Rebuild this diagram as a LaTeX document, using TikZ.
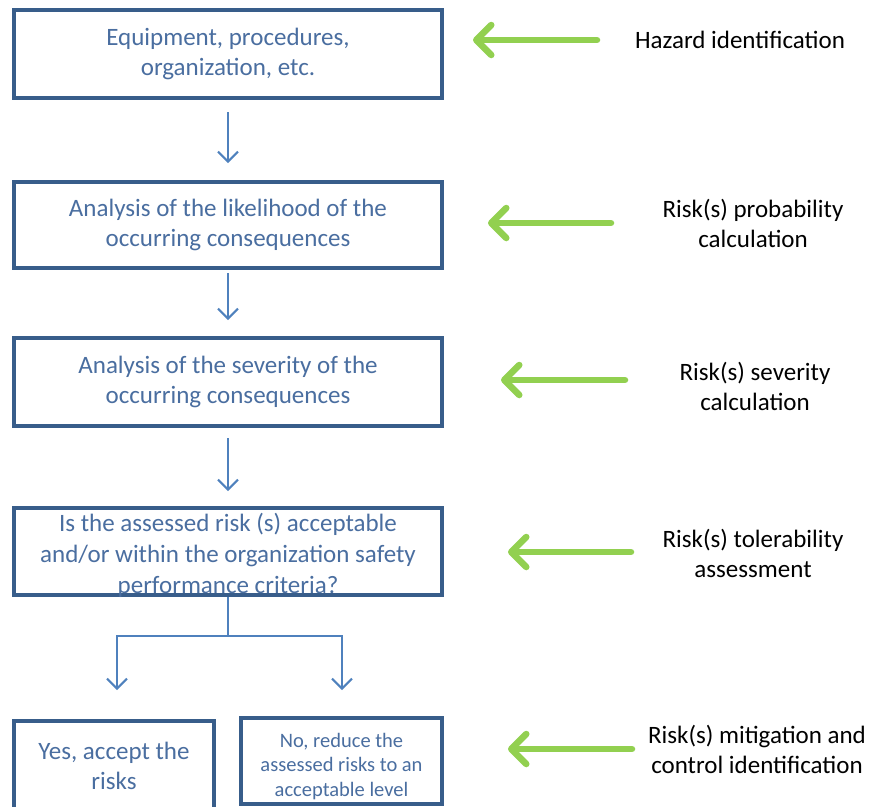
\documentclass[tikz,border=0pt]{standalone}
\usepackage{fontspec}
\setmainfont{Carlito}
\usetikzlibrary{arrows.meta}
\definecolor{boxline}{RGB}{56,93,138}
\definecolor{boxtxt}{RGB}{74,110,160}
\definecolor{flowblue}{RGB}{79,129,189}
\definecolor{hintgreen}{RGB}{146,208,80}
\tikzset{
  box/.style={draw=boxline, line width=4pt, fill=white, minimum width=428pt, inner sep=0pt},
  smallbox/.style={box, minimum width=200pt},
  boxtext/.style={text=boxtxt, align=center, font=\fontsize{25pt}{30pt}\selectfont, inner sep=0pt},
  notetext/.style={boxtext, font=\fontsize{20.5pt}{24.5pt}\selectfont},
  sidetext/.style={text=black, align=center, font=\fontsize{25pt}{30pt}\selectfont, inner sep=0pt},
  flow/.style={draw=flowblue, line width=2pt, -{Straight Barb[length=10pt,width=20pt]}},
  hint/.style={draw=hintgreen, line width=6.5pt, line cap=round,
    -{Straight Barb[length=15pt,width=30pt,line cap=round,line join=round]}},
}
\begin{document}
\begin{tikzpicture}[x=1pt, y=-1pt]
\useasboundingbox (0,0) rectangle (875,806);

% process boxes
\node[box, minimum height=88pt] (b1) at (228,54) {};
\node[boxtext] (t1) at (b1.center) {Equipment, procedures,\\organization, etc.};
\node[box, minimum height=86pt] (b2) at (228,225) {};
\node[boxtext] (t2) at (b2.center) {Analysis of the likelihood of the\\occurring consequences};
\node[box, minimum height=88pt] (b3) at (228,382) {};
\node[boxtext] (t3) at (b3.center) {Analysis of the severity of the\\occurring consequences};
\node[box, minimum height=87pt] (b4) at (228,551.5) {};
\node[boxtext, font=\fontsize{25pt}{31pt}\selectfont] (t4) at (228,555) {Is the assessed risk (s) acceptable\\and/or within the organization safety\\performance criteria?};
\node[smallbox, minimum height=88pt] (b5) at (114,765) {};
\node[boxtext] (t5) at (114,766) {Yes, accept the\\risks};
\node[smallbox, minimum width=201pt, minimum height=86pt] (b6) at (341.5,761) {};
\node[notetext] (t6) at (341.5,766.5) {No, reduce the\\assessed risks to an\\acceptable level};

% flow between the boxes
\draw[flow, shorten <=12pt, shorten >=17pt] (b1.south) -- (b2.north);
\draw[flow, shorten <=3pt, shorten >=16pt] (b2.south) -- (b3.north);
\draw[flow, shorten <=10pt, shorten >=15pt] (b3.south) -- (b4.north);
\draw[draw=flowblue, line width=2pt] (b4.south) -- (228,636) coordinate (split);
\coordinate (yesin) at (117,690);
\coordinate (noin) at (342,690);
\draw[flow] (split) -| (yesin);
\draw[flow] (split) -| (noin);

% side notes
\node[sidetext] (s1) at (740,40) {Hazard identification};
\node[sidetext] (s2) at (753,223) {Risk(s) probability\\calculation};
\node[sidetext] (s3) at (755,386) {Risk(s) severity\\calculation};
\node[sidetext] (s4) at (753,553) {Risk(s) tolerability\\assessment};
\node[sidetext] (s5) at (757,749) {Risk(s) mitigation and\\control identification};

% green pointers towards the boxes
\coordinate (g1a) at (597,40);  \coordinate (g1b) at (473,40);
\coordinate (g2a) at (611,223); \coordinate (g2b) at (488,223);
\coordinate (g3a) at (625,380); \coordinate (g3b) at (501,380);
\coordinate (g4a) at (631,552); \coordinate (g4b) at (508,552);
\coordinate (g5a) at (632,749); \coordinate (g5b) at (508,749);
\draw[hint] (g1a) -- (g1b);
\draw[hint] (g2a) -- (g2b);
\draw[hint] (g3a) -- (g3b);
\draw[hint] (g4a) -- (g4b);
\draw[hint] (g5a) -- (g5b);
\end{tikzpicture}
\end{document}
